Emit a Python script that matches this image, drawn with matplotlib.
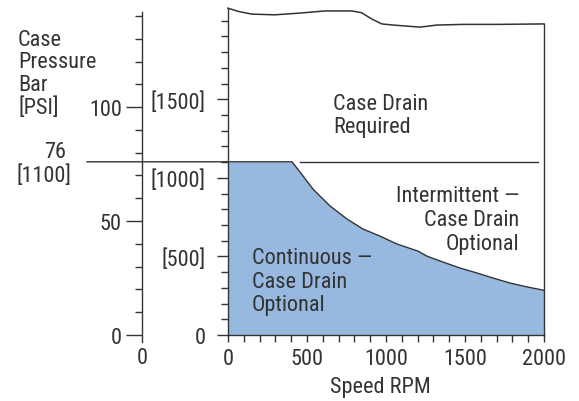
import matplotlib
matplotlib.use("Agg")
import matplotlib.pyplot as plt
from matplotlib.ticker import MultipleLocator, FixedLocator

plt.rcParams['font.family'] = ['Roboto Condensed', 'Archivo Narrow', 'DejaVu Sans']

W, H = 579, 402
FS = 16
TXT = '#333333'
LN = '#333333'
BLUE = '#98b9df'

# ---- data ----
limit_bar = 76
limit_psi = 1100
curve_rpm = [405, 456, 538, 646, 753, 854, 962, 1070, 1203, 1259, 1361, 1468, 1576, 1677, 1785, 1892, 2000]
curve_bar = [76, 71.5, 64.0, 56.6, 50.9, 46.5, 43.4, 39.9, 36.8, 34.6, 32.0, 29.4, 27.2, 25.0, 22.8, 21.1, 19.6]
wave_rpm = [0, 65, 150, 297, 445, 614, 783, 846, 909, 973, 1046, 1215, 1321, 1489, 1701, 2000]
wave_bar = [143.4, 142.0, 140.8, 140.5, 141.2, 142.2, 142.2, 141.4, 138.7, 136.5, 136.0, 135.1, 136.0, 136.3, 136.3, 136.5]
bar_major = [0, 50, 100]
psi_major = [0, 500, 1000, 1500]
psi_labels = ['0', '[500]', '[1000]', '[1500]']
rpm_major = [0, 500, 1000, 1500, 2000]
PSI_PER_BAR = 14.5038

fig = plt.figure(figsize=(W / 100, H / 100), dpi=100)
ax = fig.add_axes([228 / W, 66 / H, 316 / W, 335 / H])
ax.set_xlim(0, 2000)
ax.set_ylim(0, 147)
ax.patch.set_visible(False)

# fill region
fx = [0] + curve_rpm
fy = [limit_bar] + curve_bar
ax.fill_between(fx, fy, 0, color=BLUE, lw=0, zorder=1)
ax.plot([-892] + curve_rpm, [limit_bar] + curve_bar, color=LN, lw=1.0, clip_on=False, zorder=3)
ax.plot([456, 1962], [limit_bar, limit_bar], color=LN, lw=1.0, zorder=3)
# wave top and frame
ax.plot(wave_rpm, wave_bar, color=LN, lw=1.1, clip_on=False, zorder=3, solid_joinstyle='round')
ax.plot([0, 0], [0, wave_bar[0]], color=LN, lw=1.0, clip_on=False, zorder=3)
ax.plot([2000, 2000], [0, wave_bar[-1]], color=LN, lw=1.0, clip_on=False, zorder=3)

for s in ['top', 'right']:
    ax.spines[s].set_visible(False)
ax.spines['bottom'].set_color(LN)
ax.spines['bottom'].set_linewidth(1.0)
ax.spines['bottom'].set_zorder(4)

# bar axis
ax.spines['left'].set_position(('axes', -86 / 316))
ax.spines['left'].set_bounds(-3, 141.7)
ax.spines['left'].set_color(LN)
ax.spines['left'].set_linewidth(1.0)
ax.yaxis.set_major_locator(FixedLocator(bar_major))
ax.tick_params(axis='y', which='major', length=11.5, width=1.0, color=LN, pad=3,
               labelsize=FS, labelcolor=TXT)
ax.tick_params(axis='y', which='minor', length=5.2, width=1.0, color=LN)
ax.set_yticks([v for v in range(0, 150, 10) if v not in bar_major], minor=True)

# x axis
ax.xaxis.set_major_locator(FixedLocator(rpm_major))
ax.xaxis.set_minor_locator(MultipleLocator(100))
ax.tick_params(axis='x', which='both', direction='out', length=5.2, width=1.0, color=LN)
ax.tick_params(axis='x', which='major', pad=4, labelsize=FS, labelcolor=TXT)

# psi axis
sec = ax.secondary_yaxis(0.0, functions=(lambda b: b * PSI_PER_BAR, lambda p: p / PSI_PER_BAR))
sec.spines['left'].set_visible(False)
sec.set_yticks(psi_major)
sec.set_yticklabels(psi_labels)
sec.set_yticks(list(range(0, 2100, 100)), minor=True)
sec.tick_params(axis='y', which='major', length=8, width=1.0, color=LN, pad=8,
                labelsize=FS, labelcolor=TXT)
sec.tick_params(axis='y', which='minor', length=5.2, width=1.0, color=LN)


def ftext(x, y, s, **kw):
    kw.setdefault('fontsize', FS)
    kw.setdefault('color', TXT)
    fig.text(x / W, 1 - y / H, s, **kw)


def block(x, y0, lines, ha, step=23):
    for i, s in enumerate(lines):
        ftext(x, y0 + i * step, s, ha=ha, va='center')


block(18, 40, ['Case', 'Pressure', 'Bar', '[PSI]'], 'left', step=22.7)
ftext(55, 153, str(limit_bar), ha='center', va='center')
ftext(44, 176, '[' + str(limit_psi) + ']', ha='center', va='center')
ftext(142, 358, '0', ha='center', va='center')
ftext(380, 388, 'Speed RPM', ha='center', va='center')
block(333, 105, ['Case Drain', 'Required'], 'left')
block(519, 197, ['Intermittent —', 'Case Drain', 'Optional'], 'right', step=24)
block(252, 259, ['Continuous —', 'Case Drain', 'Optional'], 'left')

fig.savefig('out.png', dpi=100)
